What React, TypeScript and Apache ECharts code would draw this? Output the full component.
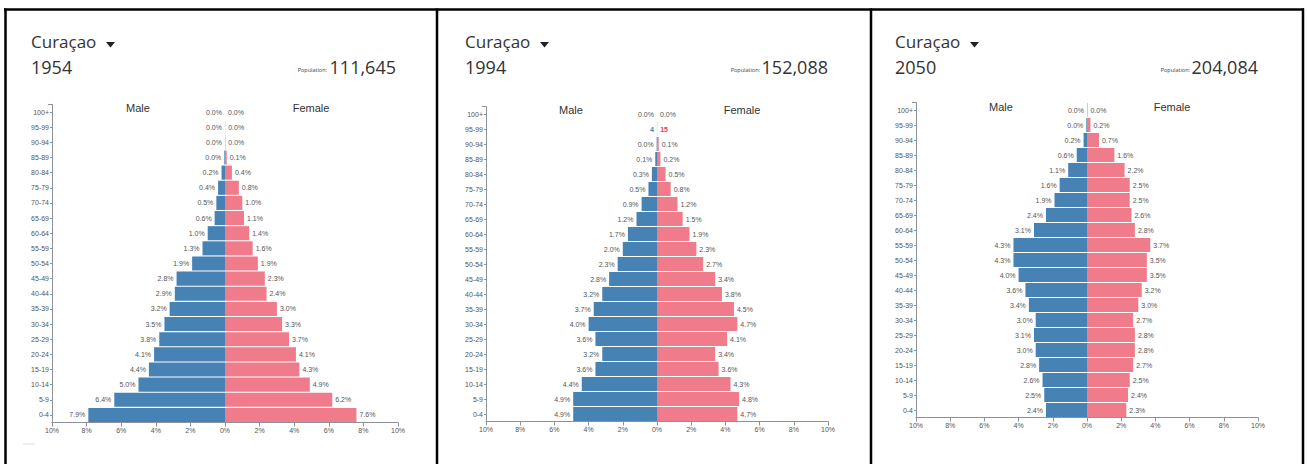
import React, { useEffect, useRef } from "react";
import * as echarts from "echarts";

const ages = ["100+", "95-99", "90-94", "85-89", "80-84", "75-79", "70-74", "65-69", "60-64", "55-59", "50-54", "45-49", "40-44", "35-39", "30-34", "25-29", "20-24", "15-19", "10-14", "5-9", "0-4"];

const years = ["1954", "1994", "2050"];
const populations = ["111,645", "152,088", "204,084"];
const country = "Curaçao";

const male1954 = [0.0, 0.0, 0.0, 0.04, 0.2, 0.4, 0.5, 0.6, 1.0, 1.3, 1.9, 2.8, 2.9, 3.2, 3.5, 3.8, 4.1, 4.4, 5.0, 6.4, 7.9];
const female1954 = [0.0, 0.01, 0.02, 0.1, 0.4, 0.8, 1.0, 1.1, 1.4, 1.6, 1.9, 2.3, 2.4, 3.0, 3.3, 3.7, 4.1, 4.3, 4.9, 6.2, 7.6];

const male1994 = [0.0, 0.003, 0.02, 0.1, 0.3, 0.5, 0.9, 1.2, 1.7, 2.0, 2.3, 2.8, 3.2, 3.7, 4.0, 3.6, 3.2, 3.6, 4.4, 4.9, 4.9];
const female1994 = [0.0, 0.01, 0.1, 0.2, 0.5, 0.8, 1.2, 1.5, 1.9, 2.3, 2.7, 3.4, 3.8, 4.5, 4.7, 4.1, 3.4, 3.6, 4.3, 4.8, 4.7];
// row 95-99 of 1994 shows raw head counts instead of percentages
const countRow1994 = "95-99";
const countMale1994 = "4";
const countFemale1994 = "15";

const male2050 = [0.0, 0.04, 0.2, 0.6, 1.1, 1.6, 1.9, 2.4, 3.1, 4.3, 4.3, 4.0, 3.6, 3.4, 3.0, 3.1, 3.0, 2.8, 2.6, 2.5, 2.4];
const female2050 = [0.03, 0.2, 0.7, 1.6, 2.2, 2.5, 2.5, 2.6, 2.8, 3.7, 3.5, 3.5, 3.2, 3.0, 2.7, 2.8, 2.8, 2.7, 2.5, 2.4, 2.3];

const maleData = [male1954, male1994, male2050];
const femaleData = [female1954, female1994, female2050];

const MALE = "#4682b4";
const FEMALE = "#f07b8b";
const AXIS = "#8c919b";
const LABEL = "#555";
const CHART_FONT = '"Liberation Sans", Arial, sans-serif';
const HEAD_FONT = '"Open Sans", "Noto Sans", sans-serif';

// layout per panel
const panels = [
  { gridLeft: 52, gridRight: 398, top: 104.5, bottom: 422.5, titleX: 31, popRight: 396, popLabelRight: 327, maleX: 138, femaleX: 311, mfY: 108 },
  { gridLeft: 486, gridRight: 828, top: 106.5, bottom: 421.5, titleX: 465, popRight: 828, popLabelRight: 760, maleX: 571, femaleX: 742, mfY: 110 },
  { gridLeft: 916, gridRight: 1258, top: 102.5, bottom: 417.5, titleX: 895, popRight: 1258, popLabelRight: 1190, maleX: 1001, femaleX: 1172, mfY: 107 },
];

export default function App() {
  const ref = useRef<HTMLDivElement>(null);
  useEffect(() => {
    if (!ref.current) return;
    const chart = echarts.init(ref.current, undefined, { renderer: "svg" });
    const H = 464;

    const grids: any[] = [];
    const xAxes: any[] = [];
    const yAxes: any[] = [];
    const series: any[] = [];
    const graphics: any[] = [];

    panels.forEach((p, i) => {
      grids.push({ left: p.gridLeft, width: p.gridRight - p.gridLeft, top: p.top, height: p.bottom - p.top, containLabel: false });
      xAxes.push({
        gridIndex: i, type: "value", min: -10, max: 10, interval: 2,
        axisLine: { show: true, lineStyle: { color: AXIS, width: 1 } },
        axisTick: { show: true, length: 4, lineStyle: { color: AXIS } },
        axisLabel: { fontSize: 7, color: LABEL, margin: 4, fontFamily: CHART_FONT, formatter: (v: number) => Math.abs(v) + "%" },
        splitLine: { show: false },
      });
      yAxes.push({
        gridIndex: i, type: "category", data: ages, inverse: true,
        axisLine: { show: true, onZero: false, lineStyle: { color: AXIS, width: 1 } },
        axisTick: { show: true, alignWithLabel: true, length: 2, lineStyle: { color: AXIS } },
        axisLabel: { fontSize: 7, color: LABEL, margin: 3, fontFamily: CHART_FONT },
      });
      const isCount = (idx: number) => i === 1 && ages[idx] === countRow1994;
      series.push({
        type: "bar", name: "Male", xAxisIndex: i, yAxisIndex: i, stack: "p" + i, barCategoryGap: "7%",
        itemStyle: { color: MALE },
        data: maleData[i].map((v, idx) => ({
          value: -v,
          label: isCount(idx) ? { formatter: countMale1994, color: MALE, fontWeight: "bold" } : undefined,
        })),
        label: {
          show: true, position: "left", distance: 3, fontSize: 7, color: LABEL, fontFamily: CHART_FONT,
          formatter: (pr: any) => Math.abs(pr.value).toFixed(1) + "%",
        },
      });
      series.push({
        type: "bar", name: "Female", xAxisIndex: i, yAxisIndex: i, stack: "p" + i, barCategoryGap: "7%",
        itemStyle: { color: FEMALE },
        data: femaleData[i].map((v, idx) => ({
          value: v,
          label: isCount(idx) ? { formatter: countFemale1994, color: "#e23d5a", fontWeight: "bold" } : undefined,
        })),
        label: {
          show: true, position: "right", distance: 3, fontSize: 7, color: LABEL, fontFamily: CHART_FONT,
          formatter: (pr: any) => Math.abs(pr.value).toFixed(1) + "%",
        },
      });

      // outer tick at the top of the age axis
      graphics.push({ type: "line", shape: { x1: p.gridLeft - 4, y1: p.top, x2: p.gridLeft, y2: p.top }, style: { stroke: AXIS, lineWidth: 1 } });

      // headers
      graphics.push({ type: "text", x: p.titleX, y: 41, style: { text: country, font: `17px ${HEAD_FONT}`, fill: "#333", textAlign: "left", textVerticalAlign: "middle" } });
      graphics.push({ type: "polygon", shape: { points: [[p.titleX + 75, 42], [p.titleX + 84, 42], [p.titleX + 79.5, 47.5]] }, style: { fill: "#222" } });
      graphics.push({ type: "text", x: p.titleX, y: 67, style: { text: years[i], font: `18px ${HEAD_FONT}`, fill: "#333", textAlign: "left", textVerticalAlign: "middle" } });
      graphics.push({ type: "text", x: p.popLabelRight, y: 70, style: { text: "Population:", font: `5.5px ${HEAD_FONT}`, fill: "#444", textAlign: "right", textVerticalAlign: "middle" } });
      graphics.push({ type: "text", x: p.popRight, y: 67, style: { text: populations[i], font: `18px ${HEAD_FONT}`, fill: "#333", textAlign: "right", textVerticalAlign: "middle" } });
      graphics.push({ type: "text", x: p.maleX, y: p.mfY, style: { text: "Male", font: `11px ${CHART_FONT}`, fill: "#333", textAlign: "center", textVerticalAlign: "middle" } });
      graphics.push({ type: "text", x: p.femaleX, y: p.mfY, style: { text: "Female", font: `11px ${CHART_FONT}`, fill: "#333", textAlign: "center", textVerticalAlign: "middle" } });
    });

    // panel frames
    const frame = { stroke: "#000", lineWidth: 2.5 };
    graphics.push({ type: "line", shape: { x1: 4, y1: 9.5, x2: 1304, y2: 9.5 }, style: frame });
    [5.5, 437, 871, 1303].forEach((x) => {
      graphics.push({ type: "line", shape: { x1: x, y1: 8.5, x2: x, y2: H }, style: frame });
    });
    graphics.push({ type: "line", shape: { x1: 23, y1: 444, x2: 35, y2: 444 }, style: { stroke: "#ddd", lineWidth: 1 } });

    chart.setOption({
      animation: false,
      backgroundColor: "#fff",
      grid: grids,
      xAxis: xAxes,
      yAxis: yAxes,
      series,
      graphic: graphics,
    });
    return () => chart.dispose();
  }, []);
  return <div ref={ref} style={{ position: "absolute", left: 0, top: 0, width: 1307, height: 464 }} />;
}
